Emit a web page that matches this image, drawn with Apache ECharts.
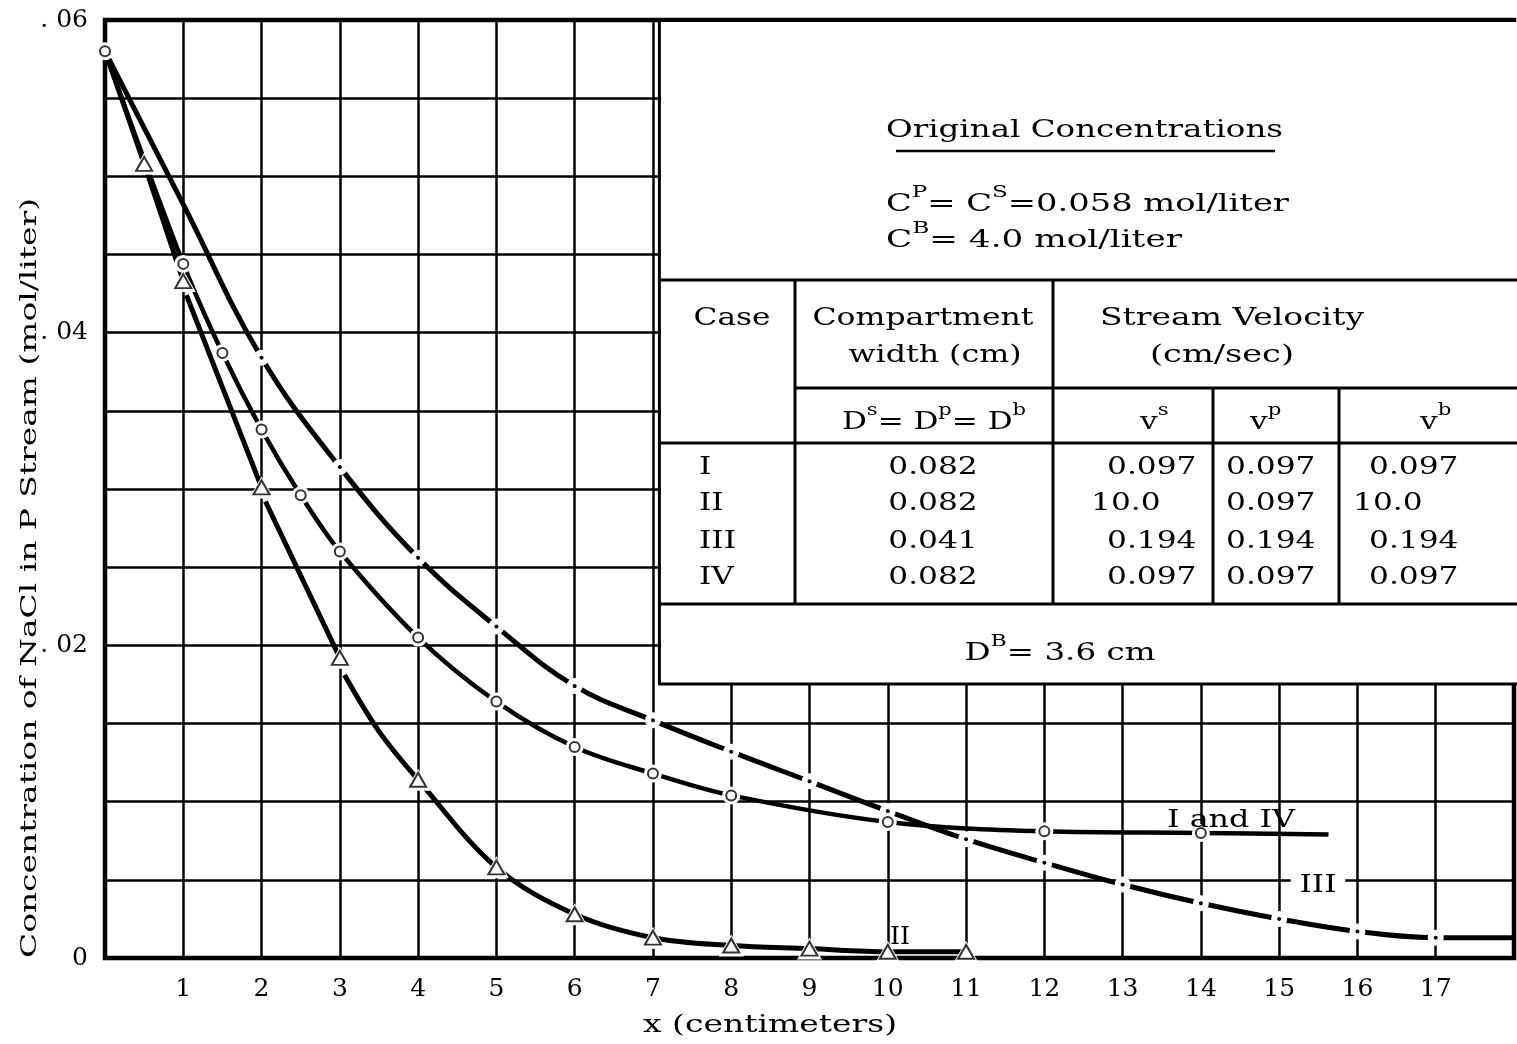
<!DOCTYPE html>
<html>
<head>
<meta charset="utf-8">
<script src="https://cdn.jsdelivr.net/npm/echarts@6.0.0/dist/echarts.min.js"></script>
<style>
  html, body { margin: 0; padding: 0; background: #fff; }
  #chart { width: 1517px; height: 1044px; }
</style>
</head>
<body>
<div id="chart"></div>
<script>
const FONT = 'DejaVu Serif';

// Cases I and IV: circle markers, then the unmarked end of the trace
const circX = [0, 1, 1.5, 2, 2.5, 3, 4, 5, 6, 7, 8, 10, 12, 14];
const circY = [0.0580, 0.0444, 0.0387, 0.0338, 0.0296, 0.0260, 0.0205, 0.0164, 0.0135, 0.0118, 0.0104, 0.0087, 0.0081, 0.0080];
const circEnd = [15.63, 0.0079];

// Case II: triangle markers. trace starts at x=0 and restarts a bit lower after 1, 2, 3
const triX = [0.5, 1, 2, 3, 4, 5, 6, 7, 8, 9, 10, 11];
const triY = [0.0508, 0.0433, 0.0301, 0.0192, 0.0114, 0.0058, 0.0028, 0.0013, 0.0008, 0.0006, 0.0004, 0.0004];
const triStart = [0, 0.0580];
const triRestartX = [1.04, 2.05, 3.06];
const triRestartY = [0.0424, 0.0292, 0.0181];
const triMid = [3.5, 0.0145];

// Case III: dash-dot trace, read at every cm
const iiiX = [0, 1, 2, 3, 4, 5, 6, 7, 8, 9, 10, 11, 12, 13, 14, 15, 16, 17, 18];
const iiiY = [0.0580, 0.0482, 0.0384, 0.0314, 0.0256, 0.0212, 0.0174, 0.0152, 0.0132, 0.0113, 0.0094, 0.0076, 0.0061, 0.0047, 0.0035, 0.0025, 0.0017, 0.0013, 0.0013];

// tick labels
const xTickVals = [1, 2, 3, 4, 5, 6, 7, 8, 9, 10, 11, 12, 13, 14, 15, 16, 17];
const yTickVals = [0, 0.02, 0.04, 0.06];
const yTickText = ['0', '. 02', '. 04', '. 06'];

// table contents
const caseNames = ['I', 'II', 'III', 'IV'];
const compWidth = ['0.082', '0.082', '0.041', '0.082'];
const velS = ['0.097', '10.0', '0.194', '0.097'];
const velP = ['0.097', '0.097', '0.194', '0.097'];
const velB = ['0.097', '10.0', '0.194', '0.097'];

// ---- series data ----
const circLine = circX.map((x, i) => ({ value: [x, circY[i]] }));
circLine.push({ value: circEnd, symbol: 'none' });

let triPts = [{ v: triStart }, { v: triMid }]
  .concat(triX.map((x, i) => ({ v: [x, triY[i]], mark: true })))
  .concat(triRestartX.map((x, i) => ({ v: [x, triRestartY[i]], restart: true })));
triPts.sort((a, b) => a.v[0] - b.v[0]);
const triLine = [];
triPts.forEach(p => {
  if (p.restart) triLine.push([p.v[0], null]);
  triLine.push({ value: p.v, symbol: p.mark ? 'triangle' : 'none' });
});

const iiiLine = iiiX.map((x, i) => ({
  value: [x, iiiY[i]],
  symbol: (x >= 2 && x <= 17) ? 'circle' : 'none'
}));

// ---- text helpers ----
const mctx = document.createElement('canvas').getContext('2d');
function measure(segs, size, sup) {
  let w = 0;
  segs.forEach(([t, s]) => {
    mctx.font = (s === 's' ? sup : size) + 'px "' + FONT + '"';
    w += mctx.measureText(t).width;
  });
  return w;
}
function txt(segs, x, y, width, o) {
  o = o || {};
  if (typeof segs === 'string') segs = [[segs, 'b']];
  const size = o.size || 25;
  const sup = Math.round(size * 0.68);
  const sx = width ? width / measure(segs, size, sup) : 1.25;
  const style = {
    text: segs.map(([t, s]) => '{' + s + '|' + t + '}').join(''),
    align: o.align || 'center',
    verticalAlign: 'middle',
    rich: {
      b: { fontFamily: FONT, fontSize: size, lineHeight: size + 14, fill: '#000' },
      s: { fontFamily: FONT, fontSize: sup, lineHeight: sup, verticalAlign: 'top', fill: '#000' }
    }
  };
  if (o.bg) { style.backgroundColor = '#fff'; style.padding = [2, 7]; }
  return { type: 'text', x, y, scaleX: sx, rotation: o.rotation || 0, z: 12, style };
}
function line(x1, y1, x2, y2, w) {
  return { type: 'line', z: 11, shape: { x1, y1, x2, y2 }, style: { stroke: '#000', lineWidth: w || 3 } };
}

const graphics = [
  { type: 'rect', z: 10, shape: { x: 661, y: 22, width: 900, height: 661 }, style: { fill: '#fff' } },
  line(659.4, 20, 659.4, 685),
  line(659, 280, 1530, 280),
  line(795, 388, 1530, 388),
  line(659, 443, 1530, 443),
  line(659, 604, 1530, 604),
  line(659, 684, 1530, 684),
  line(795, 280, 795, 604),
  line(1053, 280, 1053, 604),
  line(1213, 388, 1213, 604),
  line(1339, 388, 1339, 604),
  line(896, 151, 1275, 151, 2.5),

  txt('Original Concentrations', 886, 130, 397, { align: 'left' }),
  txt([['C', 'b'], ['P', 's'], ['= C', 'b'], ['S', 's'], ['=0.058 mol/liter', 'b']], 886, 204, 403, { align: 'left' }),
  txt([['C', 'b'], ['B', 's'], ['= 4.0 mol/liter', 'b']], 886, 240, 296, { align: 'left' }),
  txt('Case', 732, 318, 77),
  txt('Compartment', 923, 318, 221),
  txt('width (cm)', 935, 355, 173),
  txt('Stream Velocity', 1232, 318, 264),
  txt('(cm/sec)', 1222, 355, 144),
  txt([['D', 'b'], ['s', 's'], ['= D', 'b'], ['p', 's'], ['= D', 'b'], ['b', 's']], 934, 422, 184),
  txt([['v', 'b'], ['s', 's']], 1140, 422, 0, { align: 'left' }),
  txt([['v', 'b'], ['p', 's']], 1250, 422, 0, { align: 'left' }),
  txt([['v', 'b'], ['b', 's']], 1420, 422, 0, { align: 'left' }),
  txt([['D', 'b'], ['B', 's'], ['= 3.6 cm', 'b']], 1060, 653, 191),

  txt('I and IV', 1231, 820, 128),
  txt('III', 1318, 885, 37, { bg: true }),
  txt('II', 900, 937, 20),
  txt('x (centimeters)', 770, 1025, 254),
  txt('Concentration of NaCl in P Stream (mol/liter)', 30, 578, 760, { size: 22, rotation: Math.PI / 2 })
];

const rowY = [467, 503, 541, 577];
const wide = v => (v.indexOf('10') === 0 ? 16 : 0);
caseNames.forEach((c, i) => {
  const y = rowY[i];
  graphics.push(txt(c, 699, y, 0, { align: 'left' }));
  graphics.push(txt(compWidth[i], 933, y, 0));
  graphics.push(txt(velS[i], 1107 - wide(velS[i]), y, 0, { align: 'left' }));
  graphics.push(txt(velP[i], 1226 - wide(velP[i]), y, 0, { align: 'left' }));
  graphics.push(txt(velB[i], 1370 - wide(velB[i]) - 1, y, 0, { align: 'left' }));
});

const chart = echarts.init(document.getElementById('chart'));
chart.setOption({
  animation: false,
  backgroundColor: '#fff',
  grid: { left: 105, top: 20, right: -13.6, bottom: 86, show: true, borderColor: '#000', borderWidth: 4.5 },
  xAxis: {
    type: 'value', min: 0, max: 18, interval: 1,
    axisLine: { show: false }, axisTick: { show: false },
    splitLine: { show: true, lineStyle: { color: '#000', width: 2.5 } },
    axisLabel: {
      margin: 19, color: '#000', fontFamily: FONT, fontSize: 25,
      formatter: v => (xTickVals.indexOf(v) >= 0 ? String(v) : '')
    }
  },
  yAxis: {
    type: 'value', min: 0, max: 0.06, interval: 0.005,
    axisLine: { show: false }, axisTick: { show: false },
    splitLine: { show: true, lineStyle: { color: '#000', width: 2.5 } },
    axisLabel: {
      margin: 17, color: '#000', fontFamily: FONT, fontSize: 25,
      formatter: v => {
        const i = yTickVals.findIndex(t => Math.abs(t - v) < 1e-9);
        return i < 0 ? '' : yTickText[i];
      }
    }
  },
  series: [
    {
      name: 'III', type: 'line', data: iiiLine, smooth: 0.4, silent: true,
      lineStyle: { color: '#000', width: 5 },
      symbolSize: 10,
      itemStyle: { color: '#000', borderColor: '#fff', borderWidth: 6 },
      emphasis: { disabled: true }, z: 3
    },
    {
      name: 'I and IV', type: 'line', data: circLine, smooth: 0.35, silent: true,
      lineStyle: { color: '#000', width: 4.5 },
      symbol: 'circle', symbolSize: 18,
      itemStyle: { color: '#fff', borderWidth: 0 },
      emphasis: { disabled: true }, z: 3
    },
    {
      name: 'II', type: 'line', data: triLine, smooth: 0.35, silent: true, connectNulls: false,
      lineStyle: { color: '#000', width: 5 },
      symbol: 'triangle', symbolSize: [25, 22],
      itemStyle: { color: '#fff', borderWidth: 0 },
      emphasis: { disabled: true }, z: 3
    },
    {
      type: 'scatter', silent: true, z: 5,
      data: circX.map((x, i) => [x, circY[i]]),
      symbol: 'emptyCircle', symbolSize: 10,
      itemStyle: { color: '#000', borderColor: '#000', borderWidth: 2.6 }
    },
    {
      type: 'scatter', silent: true, z: 5,
      data: triX.map((x, i) => [x, triY[i]]),
      symbol: 'emptyTriangle', symbolSize: [16, 14],
      itemStyle: { color: '#000', borderColor: '#000', borderWidth: 3 }
    }
  ],
  graphic: { elements: graphics }
});
</script>
</body>
</html>
